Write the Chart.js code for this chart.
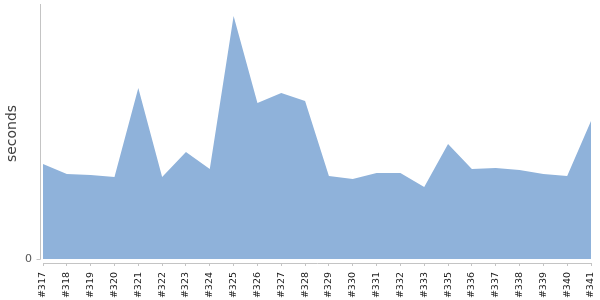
<!DOCTYPE html>
<html>
<head>
<meta charset="utf-8">
<script src="https://cdn.jsdelivr.net/npm/chart.js@4/dist/chart.umd.min.js"></script>
<style>
  html, body { margin: 0; padding: 0; background: #fff; }
  #wrap { width: 600px; height: 300px; }
</style>
</head>
<body>
<div id="wrap"><canvas id="Chart" width="600" height="300"></canvas></div>
<script>
// builds on the x axis
var label = ["#317", "#318", "#319", "#320", "#321", "#322", "#323", "#324",
             "#325", "#326", "#327", "#328", "#329", "#330", "#331", "#332",
             "#333", "#335", "#336", "#337", "#338", "#339", "#340", "#341"];

// duration per build (relative units)
var seconds = [95, 85, 84, 82, 171, 82, 107, 90,
               243, 156, 166, 158, 83, 80, 86, 86,
               72, 115, 90, 91, 89, 85, 83, 138];

// y axis: only the 0 tick is labelled
var yTicks = [0];
var yMin = -4;
var yMax = 255;

var fillColor = "rgb(143, 178, 218)";
var axisColor = "#c4c4c4";

// y axis line drawn a few px left of the plot, like the reference
var offsetYAxis = {
  id: "offsetYAxis",
  afterDraw: function (chart) {
    var c = chart.ctx, a = chart.chartArea;
    var y0 = chart.scales.y.getPixelForValue(0);
    var x = Math.round(a.left - 3) + 0.5;
    c.save();
    c.strokeStyle = axisColor;
    c.lineWidth = 1;
    c.beginPath();
    c.moveTo(x, a.top);
    c.lineTo(x, Math.round(y0) + 0.5);
    c.moveTo(x - 4, Math.round(y0) + 0.5);
    c.lineTo(x, Math.round(y0) + 0.5);
    c.stroke();
    c.restore();
  }
};

function noPadding(axis) {
  axis.paddingLeft = 0;
  axis.paddingRight = 0;
  axis.paddingTop = 0;
  axis.paddingBottom = 0;
}

var ctx = document.getElementById("Chart").getContext("2d");
var chart = new Chart(ctx, {
  type: "line",
  data: {
    labels: label,
    datasets: [{
      label: "seconds",
      data: seconds,
      fill: "origin",
      backgroundColor: fillColor,
      borderWidth: 0,
      pointRadius: 0,
      tension: 0
    }]
  },
  options: {
    responsive: false,
    animation: false,
    layout: { padding: { top: 4, right: 9, left: 0, bottom: 0 } },
    plugins: { legend: { display: false }, tooltip: { enabled: false } },
    scales: {
      x: {
        offset: false,
        afterFit: function (axis) { axis.height = 37; noPadding(axis); },
        border: { display: true, color: axisColor },
        grid: { display: true, drawOnChartArea: false, tickLength: 3, color: axisColor },
        ticks: {
          autoSkip: false,
          minRotation: 90,
          maxRotation: 90,
          padding: 6,
          color: "#1a1a1a",
          font: { family: "DejaVu Sans", size: 9.5 }
        }
      },
      y: {
        min: yMin,
        max: yMax,
        afterFit: function (axis) { axis.width = 43; noPadding(axis); },
        border: { display: false },
        grid: { display: false, drawTicks: false },
        afterBuildTicks: function (axis) {
          axis.ticks = yTicks.map(function (v) { return { value: v }; });
        },
        ticks: {
          padding: 11,
          color: "#555",
          font: { family: "DejaVu Sans", size: 11 }
        },
        title: {
          display: true,
          text: "seconds",
          color: "#404040",
          padding: { top: 4, bottom: 4 },
          font: { family: "DejaVu Sans", size: 14 }
        }
      }
    }
  },
  plugins: [offsetYAxis]
});
</script>
</body>
</html>
